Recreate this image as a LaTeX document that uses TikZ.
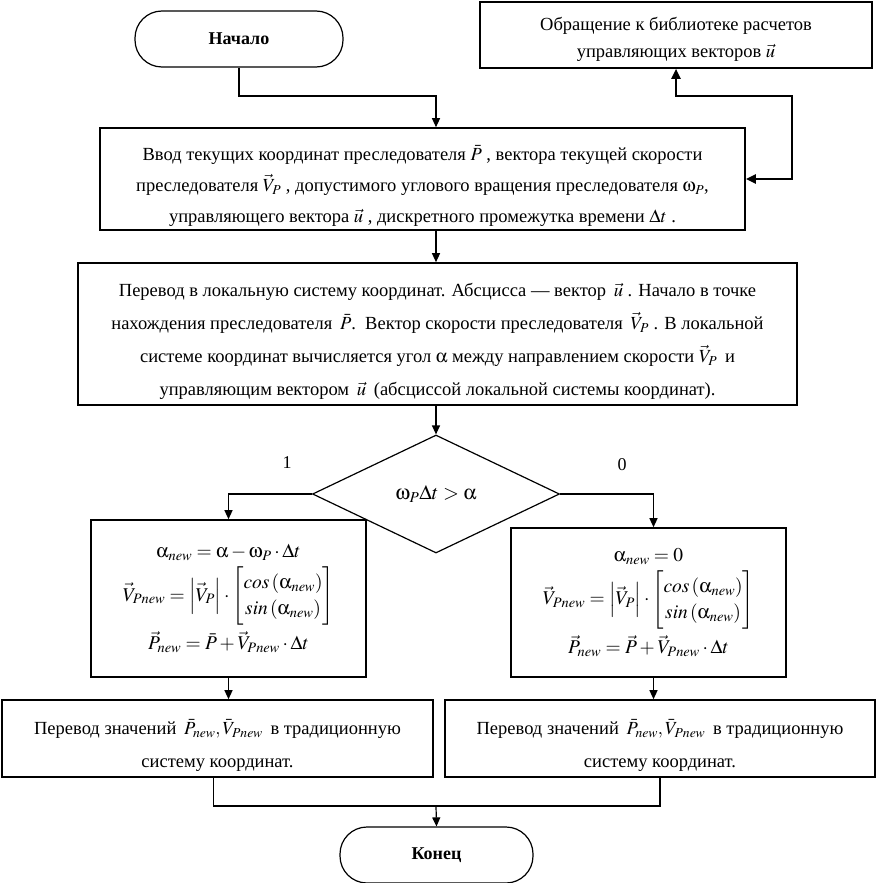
\documentclass[tikz,border=0pt]{standalone}
\usepackage{amsmath}
\usepackage{mathptmx}
\usepackage[Symbol]{upgreek}
\usepackage[no-math]{fontspec}
\setmainfont{Liberation Serif}
\usetikzlibrary{arrows.meta,positioning,shapes.geometric,calc}
% extra room above the first line, pushes the text block down
\newcommand{\topgap}[1]{\rule{0pt}{#1}}

\begin{document}
\begin{tikzpicture}[x=1pt,y=-1pt,
  blk/.style={draw,line width=1.6pt,minimum width=#1,align=center,inner sep=0pt,
    font=\fontsize{18.5}{31}\selectfont},
  term/.style={draw,line width=1.2pt,rounded corners=27pt,minimum width=#1,
    minimum height=56pt,font=\fontsize{18}{20}\selectfont\bfseries},
  link/.style={line width=1.2pt,-{Triangle[length=9pt,width=8pt]}},
]
  \useasboundingbox (0,0) rectangle (878,883);
  \node[term=208pt] (start) at (239,39) {Начало};
  \node[blk=392pt,minimum height=66pt,font=\fontsize{18.5}{27}\selectfont] (lib) at (676,35)
    {\topgap{21pt}Обращение к библиотеке расчетов\\управляющих векторов $\vec u$};
  \node[blk=645pt,minimum height=102pt] (input) at (422.5,179)
    {\topgap{29pt}Ввод текущих координат преследователя $\bar P$ , вектора текущей скорости\\
     преследователя $\vec V_P$ , допустимого углового вращения преследователя $\upomega_P$,\\
     управляющего вектора $\vec u$ , дискретного промежутка времени $\Delta t$ .};
  \node[blk=719pt,minimum height=142pt,font=\fontsize{18.5}{33}\selectfont] (local) at (437.5,334)
    {\topgap{28pt}Перевод в локальную систему координат. Абсцисса — вектор \,$\vec u$ . Начало в точке\\
     нахождения преследователя \,$\bar P$. \,Вектор скорости преследователя \,$\vec V_P$ . В локальной\\
     системе координат вычисляется угол $\upalpha$ между направлением скорости $\vec V_P$ \,и\\
     управляющим вектором \,$\vec u$ \,(абсциссой локальной системы координат).};
  \node[draw,diamond,line width=1.2pt,minimum width=247pt,minimum height=118pt,inner sep=0pt,
    font=\fontsize{20.5}{22}\selectfont] (cond) at (436,494) {$\upomega_P\Delta t>\upalpha$};
  \node[blk=275pt,minimum height=157pt,font=\fontsize{19.5}{26}\selectfont] (calcL) at (228.5,598.5)
    {$\upalpha_{new}=\upalpha-\upomega_P\cdot\Delta t$\\[5pt]
     $\vec V_{Pnew}=\left|\vec V_P\right|\cdot\left[\begin{matrix}cos\left(\upalpha_{new}\right)\\ sin\left(\upalpha_{new}\right)\end{matrix}\right]$\\[5pt]
     $\vec P_{new}=\bar P+\vec V_{Pnew}\cdot\Delta t$};
  \node[blk=275pt,minimum height=149pt,font=\fontsize{19.5}{26}\selectfont] (calcR) at (648.5,602.5)
    {$\upalpha_{new}=0$\\[5pt]
     $\vec V_{Pnew}=\left|\vec V_P\right|\cdot\left[\begin{matrix}cos\left(\upalpha_{new}\right)\\ sin\left(\upalpha_{new}\right)\end{matrix}\right]$\\[5pt]
     $\vec P_{new}=\vec P+\vec V_{Pnew}\cdot\Delta t$};
  \node[blk=431pt,minimum height=77pt,font=\fontsize{18.5}{33}\selectfont] (outL) at (217.5,738.5)
    {\topgap{29pt}Перевод значений \,$\bar P_{new},\bar V_{Pnew}$ \,в традиционную\\систему координат.};
  \node[blk=430pt,minimum height=77pt,font=\fontsize{18.5}{33}\selectfont] (outR) at (660,738.5)
    {\topgap{29pt}Перевод значений \,$\bar P_{new},\bar V_{Pnew}$ \,в традиционную\\систему координат.};
  \node[term=193pt] (stop) at (436.5,855) {Конец};

  \coordinate (j1) at (436,96);
  \coordinate (j2) at (792,96);
  \coordinate (j3) at (436,806);
  \draw[link] (start.south) |- (j1) -- (j1 |- input.north);
  \draw[line width=2.2pt,{Triangle[length=10pt,width=9pt]}-{Triangle[length=10pt,width=9pt]}]
    (input.east) -| (j2) -| (lib.south);
  \draw[link] (j1 |- input.south) -- (j1 |- local.north);
  \draw[link] (cond.north |- local.south) -- (cond.north);
  \draw[link] (cond.west) -| (calcL.north);
  \draw[link] (cond.east) -| ([xshift=5pt]calcR.north);
  \node[font=\fontsize{18}{20}\selectfont] (one) at (287,463) {1};
  \node[font=\fontsize{18}{20}\selectfont] (zero) at (622,465) {0};
  \draw[link] (calcL.south) -- (calcL.south |- outL.north);
  \draw[link] ([xshift=5pt]calcR.south) -- ([xshift=5pt]calcR.south |- outR.north);
  \draw[line width=1.2pt] ([xshift=-4pt]outL.south) |- (j3) -| (outR.south);
  \draw[link] (j3) -- (stop.north);
\end{tikzpicture}
\end{document}
